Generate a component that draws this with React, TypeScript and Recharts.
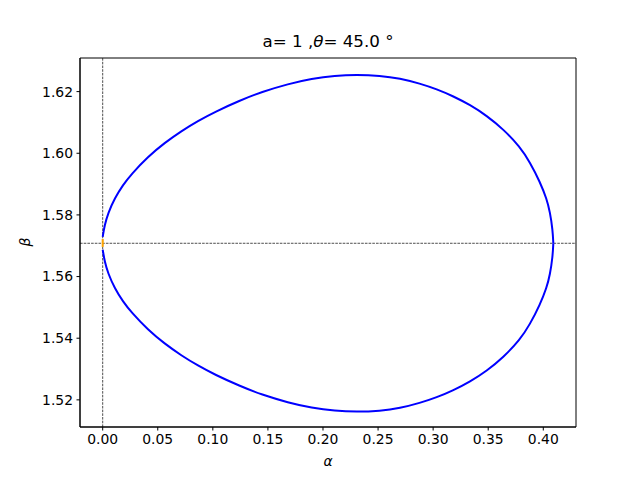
import { ComposedChart, Line, XAxis, YAxis, ReferenceLine, ReferenceArea } from "recharts";

// loop at the same alpha positions for both halves
const alpha = [
  0, 0.0018, 0.0048, 0.0109, 0.0184, 0.026, 0.0411, 0.0563, 0.0714, 0.0865, 0.1017, 0.1244, 0.1443, 0.1685,
  0.1897, 0.2109, 0.2306, 0.2517, 0.2699, 0.2881, 0.3032, 0.3183, 0.3335, 0.3486, 0.3637, 0.3788, 0.3879, 0.397,
  0.4031, 0.4061, 0.4085, 0.4091,
];
const betaUpper = [
  1.5729, 1.5767, 1.5805, 1.5854, 1.5897, 1.5932, 1.5989, 1.6034, 1.6072, 1.6105, 1.6134, 1.6171, 1.6199, 1.6225,
  1.6242, 1.6252, 1.6255, 1.6252, 1.6243, 1.6226, 1.6208, 1.6185, 1.6157, 1.6122, 1.6078, 1.6021, 1.5971, 1.5907,
  1.5852, 1.5809, 1.5752, 1.5708,
];
const betaLower = [
  1.5687, 1.5649, 1.5611, 1.5562, 1.5519, 1.5484, 1.5427, 1.5382, 1.5344, 1.5311, 1.5282, 1.5245, 1.5217, 1.5191,
  1.5174, 1.5164, 1.5161, 1.5164, 1.5173, 1.519, 1.5208, 1.5231, 1.5259, 1.5294, 1.5338, 1.5395, 1.5445, 1.5509,
  1.5564, 1.5607, 1.5664, 1.5708,
];

// short orange piece at the tip
const tipAlpha = [0, 0];
const tipBeta = [1.5696, 1.5722];

const xTicks = [0, 0.05, 0.1, 0.15, 0.2, 0.25, 0.3, 0.35, 0.4];
const yTicks = [1.52, 1.54, 1.56, 1.58, 1.6, 1.62];
const xDomain = [-0.0206, 0.4297];
const yDomain = [1.5112, 1.6309];
const betaLevel = 1.5708;

const toPoints = (xs: number[], ys: number[]) => xs.map((a, i) => ({ alpha: a, beta: ys[i] }));
const upper = toPoints(alpha, betaUpper);
const lower = toPoints(alpha, betaLower);
const tip = toPoints(tipAlpha, tipBeta);

const font = "DejaVu Sans, sans-serif";
const tickStyle = { fill: "#000", fontSize: 13.9, fontFamily: font };

export default function App() {
  return (
    <div style={{ position: "absolute", left: 0, top: 0, width: 640, height: 480, background: "#fff", fontFamily: font }}>
      <div style={{ position: "absolute", left: 80, width: 496, top: 31, textAlign: "center", fontSize: 16.7, lineHeight: "20px" }}>
        a= 1 ,<span style={{ fontStyle: "italic" }}>θ</span>= 45.0 °
      </div>
      <div style={{ position: "absolute", left: 80, width: 496, top: 452, textAlign: "center", fontSize: 13.9, lineHeight: "18px", fontStyle: "italic" }}>
        α
      </div>
      <div
        style={{
          position: "absolute", left: 16, top: 233, width: 18, height: 18, textAlign: "center", fontSize: 13.9,
          lineHeight: "18px", fontStyle: "italic", transform: "rotate(-90deg)",
        }}
      >
        β
      </div>
      <ComposedChart width={640} height={480} margin={{ top: 58, right: 64, left: 20, bottom: 13 }}>
        <XAxis
          type="number"
          dataKey="alpha"
          domain={xDomain}
          ticks={xTicks}
          allowDataOverflow
          height={40}
          tickSize={3.5}
          tickMargin={3.5}
          tick={tickStyle}
          tickFormatter={(v: number) => v.toFixed(2)}
          stroke="#000"
        />
        <YAxis
          type="number"
          dataKey="beta"
          domain={yDomain}
          ticks={yTicks}
          allowDataOverflow
          width={60}
          tickSize={3.5}
          tickMargin={3.5}
          tick={tickStyle}
          tickFormatter={(v: number) => v.toFixed(2)}
          stroke="#000"
        />
        <ReferenceArea x1={xDomain[0]} x2={xDomain[1]} y1={yDomain[0]} y2={yDomain[1]} fill="none" stroke="#000" strokeWidth={1} />
        <ReferenceLine x={0} stroke="#000" strokeWidth={0.7} strokeDasharray="2.6 1.1" />
        <ReferenceLine y={betaLevel} stroke="#000" strokeWidth={0.7} strokeDasharray="2.6 1.1" />
        <Line data={upper} dataKey="beta" type="basis" stroke="#0000ff" strokeWidth={2} dot={false} isAnimationActive={false} />
        <Line data={lower} dataKey="beta" type="basis" stroke="#0000ff" strokeWidth={2} dot={false} isAnimationActive={false} />
        <Line data={tip} dataKey="beta" type="linear" stroke="#ffa500" strokeWidth={2} dot={false} isAnimationActive={false} />
      </ComposedChart>
    </div>
  );
}
